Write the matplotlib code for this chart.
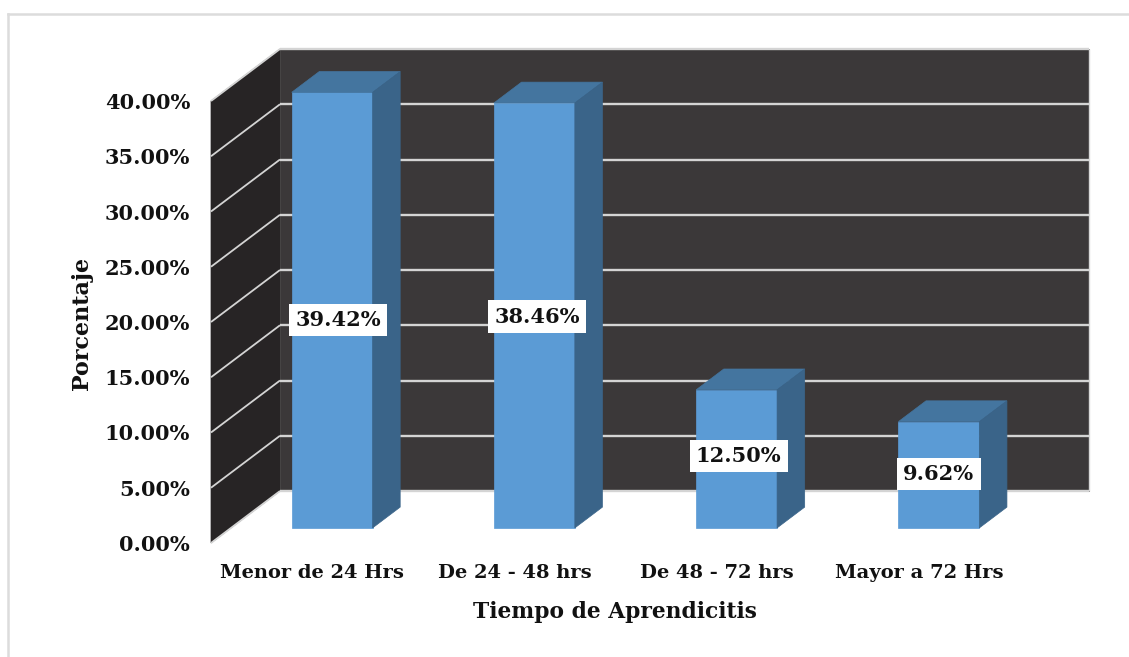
import matplotlib
matplotlib.use("Agg")
import matplotlib.pyplot as plt
from matplotlib.patches import Polygon
from matplotlib.lines import Line2D
from matplotlib.transforms import Affine2D

categories = ["Menor de 24 Hrs", "De 24 - 48 hrs", "De 48 - 72 hrs", "Mayor a 72 Hrs"]
values = [39.42, 38.46, 12.50, 9.62]
value_labels = ["39.42%", "38.46%", "12.50%", "9.62%"]
y_ticks = [0, 5, 10, 15, 20, 25, 30, 35, 40]
y_tick_labels = ["0.00%", "5.00%", "10.00%", "15.00%", "20.00%", "25.00%", "30.00%", "35.00%", "40.00%"]
x_title = "Tiempo de Aprendicitis"
y_title = "Porcentaje"

W, H = 1129, 657
FONT = "DejaVu Serif"
INK = "#111111"
fig = plt.figure(figsize=(W / 100, H / 100), dpi=100, facecolor="white")

# the axes is the front plane of the 3-D box
L, R, TOP, BOT = 211, 1020, 101, 543
ax = fig.add_axes([L / W, 1 - BOT / H, (R - L) / W, (BOT - TOP) / H])
ax.set_xlim(-0.5, 3.5)
ax.set_ylim(0, 40)
ax.patch.set_visible(False)
for s in ax.spines.values():
    s.set_visible(False)

DX, DY = 69, 52
def depth(z):
    return ax.transData + Affine2D().translate(DX * z, DY * z)

def poly(pts, z_pts, color, zorder=1):
    """pts: (x, y) in data units; z_pts: depth of every point."""
    verts = [depth(z).transform(p) for p, z in zip(pts, z_pts)]
    ax.add_patch(Polygon(verts, closed=True, transform=None, facecolor=color,
                         edgecolor=color, linewidth=0.5, zorder=zorder, clip_on=False))

X0, X1 = -0.5, 3.5
GRID = "#d4d4d4"
# walls
poly([(X0, 0), (X1, 0), (X1, 40), (X0, 40)], [1, 1, 1, 1], "#3b3839", 1)
poly([(X0, 0), (X0, 0), (X0, 40), (X0, 40)], [0, 1, 1, 0], "#272425", 1)

def wall_line(pts, zs, lw, color=GRID):
    a, b = [depth(z).transform(p) for p, z in zip(pts, zs)]
    ax.add_line(Line2D([a[0], b[0]], [a[1], b[1]], transform=None, color=color,
                       lw=lw, zorder=2, clip_on=False, solid_capstyle="butt"))

for t in y_ticks:
    wall_line([(X0, t), (X1, t)], [1, 1], 1.7)
    wall_line([(X0, t), (X0, t)], [0, 1], 1.3)
wall_line([(X1, 0), (X1, 40)], [1, 1], 1.0, "#d8d8d8")

# bars
Z0, Z1 = 0.29, 0.69
BW = 0.2
for i, v in enumerate(values):
    a, b = i - BW, i + BW
    poly([(a, 0), (b, 0), (b, v), (a, v)], [Z0] * 4, "#5b9bd5", 3)
    poly([(a, v), (b, v), (b, v), (a, v)], [Z0, Z0, Z1, Z1], "#44759f", 3)
    poly([(b, 0), (b, 0), (b, v), (b, v)], [Z0, Z1, Z1, Z0], "#3a6489", 3)

# data labels
label_offsets = [(26, 5), (23, 14), (22, 18), (20, 16)]
for i, (v, s, off) in enumerate(zip(values, value_labels, label_offsets)):
    ax.annotate(s, (i, v / 2), xytext=off, textcoords="offset pixels", ha="center", va="center",
                family=FONT, fontweight="bold", fontsize=15, color=INK, zorder=5,
                bbox=dict(facecolor="white", edgecolor="none", pad=4.5))

# ticks
ax.set_xticks(range(len(categories)), categories)
ax.set_yticks(y_ticks, y_tick_labels)
ax.tick_params(axis="both", length=0)
ax.tick_params(axis="x", pad=15)
ax.tick_params(axis="y", pad=15)
for lab in ax.get_xticklabels():
    lab.set(family=FONT, fontweight="bold", fontsize=14, color=INK)
for lab in ax.get_yticklabels():
    lab.set(family=FONT, fontweight="bold", fontsize=15, color=INK)

fig.text(615 / W, 1 - 612 / H, x_title, ha="center", va="center", family=FONT,
         fontweight="bold", fontsize=15.7, color=INK)
fig.text(82 / W, 1 - 323 / H, y_title, ha="center", va="center", rotation=90, family=FONT,
         fontweight="bold", fontsize=16, color=INK)

# picture frame
fig.add_artist(Line2D([8 / W, 8 / W], [0, 1 - 14 / H], color="#dcdcdc", lw=1.8))
fig.add_artist(Line2D([8 / W, 1], [1 - 14 / H, 1 - 14 / H], color="#dcdcdc", lw=1.8))

fig.savefig("out.png", dpi=100)
